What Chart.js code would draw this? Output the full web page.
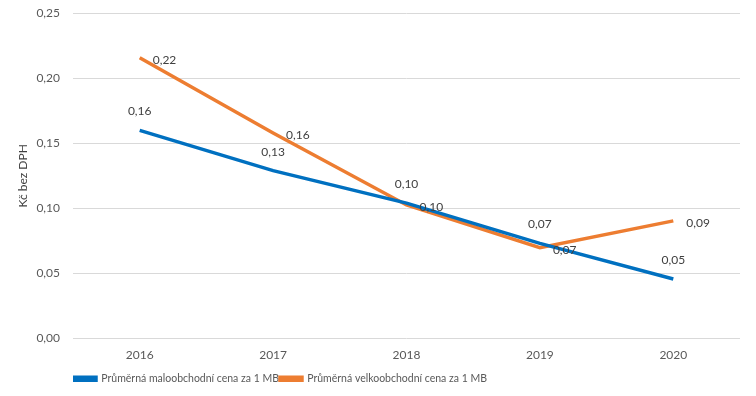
<!DOCTYPE html>
<html>
<head>
<meta charset="utf-8">
<script src="https://cdn.jsdelivr.net/npm/chart.js@4"></script>
<style>
  html, body { margin: 0; padding: 0; background: #fff; }
  #wrap { width: 756px; height: 396px; }
</style>
</head>
<body>
<div id="wrap"><canvas id="priceChart"></canvas></div>
<script>
const years = ['2016', '2017', '2018', '2019', '2020'];
const retailPrice = [0.160, 0.129, 0.104, 0.073, 0.0455];
const wholesalePrice = [0.216, 0.158, 0.1026, 0.0697, 0.0903];
const retailLabel = 'Průměrná maloobchodní cena za 1 MB';
const wholesaleLabel = 'Průměrná velkoobchodní cena za 1 MB';

const fontFamily = 'Lato, sans-serif';
const toCzech = (v) => v.toFixed(2).replace('.', ',');

// draws the value next to each point, like Excel data labels
const valueLabels = {
    id: 'valueLabels',
    afterDatasetsDraw(chart) {
        const ctx = chart.ctx;
        ctx.save();
        ctx.font = `12px ${fontFamily}`;
        ctx.fillStyle = '#404040';
        ctx.textBaseline = 'middle';
        chart.data.datasets.forEach((ds, i) => {
            const meta = chart.getDatasetMeta(i);
            meta.data.forEach((pt, j) => {
                const text = toCzech(ds.data[j]);
                if (ds.labelSide === 'above') {
                    ctx.textAlign = 'center';
                    ctx.fillText(text, pt.x, pt.y - 19);
                } else {
                    ctx.textAlign = 'left';
                    ctx.fillText(text, pt.x + 13, pt.y + 2);
                }
            });
        });
        ctx.restore();
    }
};

function drawChart() {
    new Chart(document.getElementById('priceChart'), {
        type: 'line',
        data: {
            labels: years,
            datasets: [{
                label: retailLabel,
                data: retailPrice,
                borderColor: '#0070C0',
                backgroundColor: '#0070C0',
                borderWidth: 3.5,
                pointRadius: 0,
                tension: 0,
                labelSide: 'above'
            }, {
                label: wholesaleLabel,
                data: wholesalePrice,
                borderColor: '#ED7D31',
                backgroundColor: '#ED7D31',
                borderWidth: 3.5,
                pointRadius: 0,
                tension: 0,
                labelSide: 'right'
            }]
        },
        options: {
            responsive: true,
            maintainAspectRatio: false,
            animation: false,
            layout: { padding: { top: 0, right: 16, left: 16, bottom: 2 } },
            plugins: {
                tooltip: { enabled: false },
                legend: {
                    position: 'bottom',
                    align: 'start',
                    fullSize: false,
                    labels: {
                        boxWidth: 22,
                        boxHeight: 3,
                        padding: 1,
                        color: '#595959',
                        font: { family: fontFamily, size: 10.5 }
                    }
                }
            },
            scales: {
                x: {
                    offset: true,
                    grid: { display: false, drawTicks: false },
                    border: { display: false },
                    ticks: { color: '#595959', font: { family: fontFamily, size: 12 }, padding: 10 }
                },
                y: {
                    min: 0,
                    max: 0.25,
                    afterFit: (scale) => { scale.width = 57; },
                    ticks: {
                        stepSize: 0.05,
                        color: '#595959',
                        padding: 13,
                        // small line height so the top label does not push the plot down
                        font: { family: fontFamily, size: 12, lineHeight: 0.1 },
                        callback: (v) => toCzech(v)
                    },
                    grid: { color: '#d9d9d9', lineWidth: 1, drawTicks: false },
                    border: { display: false },
                    title: {
                        display: true,
                        text: 'Kč bez DPH',
                        color: '#404040',
                        font: { family: fontFamily, size: 12 },
                        padding: { top: 0, bottom: 4 }
                    }
                }
            }
        },
        plugins: [valueLabels]
    });
}

document.fonts.load(`12px ${fontFamily}`).then(drawChart, drawChart);
</script>
</body>
</html>
